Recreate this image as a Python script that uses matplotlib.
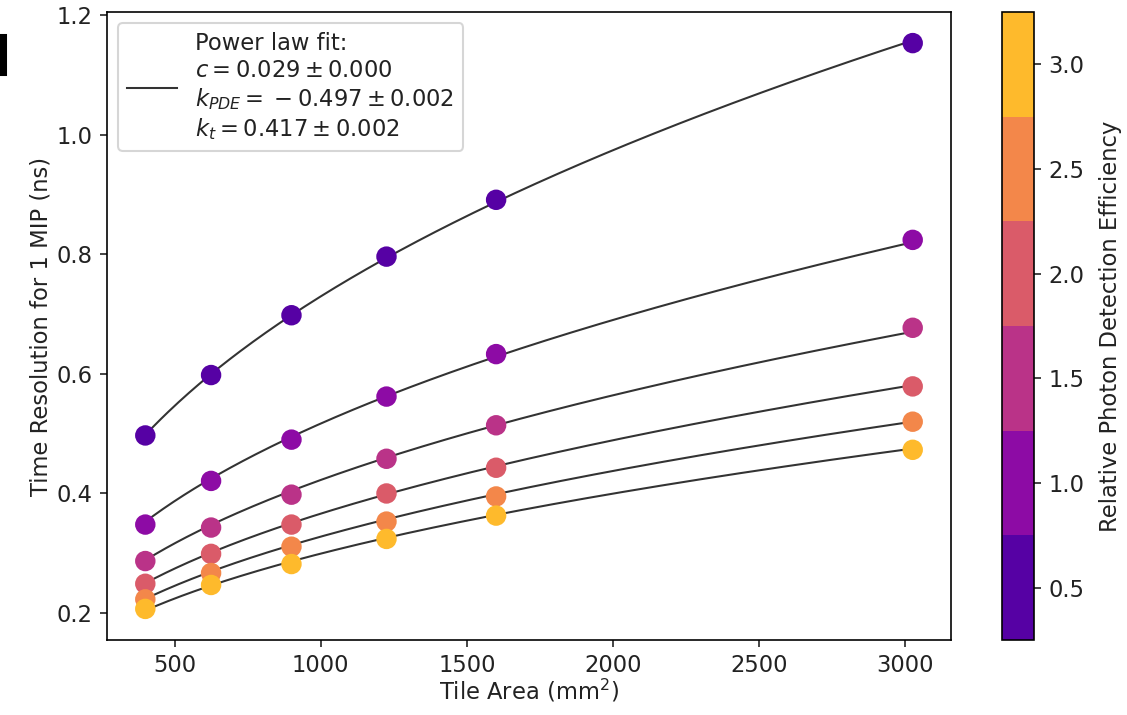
import numpy as np
import matplotlib
matplotlib.use("Agg")
import matplotlib.pyplot as plt
from matplotlib.colors import ListedColormap, BoundaryNorm
from matplotlib.patches import Rectangle
from matplotlib.ticker import NullLocator

# tile areas (mm^2) and relative PDE levels
areas = [400, 625, 900, 1225, 1600, 3025]
pde_levels = [0.5, 1.0, 1.5, 2.0, 2.5, 3.0]

# measured time resolution (ns), one row per PDE level
t_pde_05 = [0.497, 0.598, 0.698, 0.796, 0.891, 1.153]
t_pde_10 = [0.348, 0.421, 0.490, 0.562, 0.633, 0.824]
t_pde_15 = [0.287, 0.343, 0.398, 0.458, 0.514, 0.677]
t_pde_20 = [0.249, 0.299, 0.348, 0.400, 0.443, 0.579]
t_pde_25 = [0.223, 0.267, 0.311, 0.353, 0.395, 0.520]
t_pde_30 = [0.207, 0.247, 0.282, 0.324, 0.363, 0.473]
series = [t_pde_05, t_pde_10, t_pde_15, t_pde_20, t_pde_25, t_pde_30]

# power law fit parameters
c_fit, c_err = 0.029, 0.000
k_pde, k_pde_err = -0.497, 0.002
k_t, k_t_err = 0.417, 0.002

cb_ticks = [0.5, 1.0, 1.5, 2.0, 2.5, 3.0]
cb_bounds = [0.25, 0.75, 1.25, 1.75, 2.25, 2.75, 3.25]


def power_law(pde, area):
    return c_fit * pde ** k_pde * area ** k_t


plt.rcParams["font.size"] = 11
plt.rcParams["text.color"] = "#222222"
plt.rcParams["axes.labelcolor"] = "#222222"
plt.rcParams["xtick.color"] = "#222222"
plt.rcParams["ytick.color"] = "#222222"

fig = plt.figure(figsize=(1127 / 148, 715 / 148), dpi=148)
ax = fig.add_axes([107 / 1127, 1 - 640 / 715, 844 / 1127, 628 / 715])
cax = fig.add_axes([1002 / 1127, 1 - 640 / 715, 32 / 1127, 628 / 715])

cmap = ListedColormap(plt.get_cmap("plasma")(np.linspace(0.15, 0.85, 6)))
norm = BoundaryNorm(cb_bounds, cmap.N)

fit_label = (
    "Power law fit:\n"
    f"$c = {c_fit:.3f} \\pm {c_err:.3f}$\n"
    f"$k_{{PDE}} = \\:-\\:{abs(k_pde):.3f} \\pm {k_pde_err:.3f}$\n"
    f"$k_t = {k_t:.3f} \\pm {k_t_err:.3f}$"
)

x_fit = np.linspace(areas[0], areas[-1], 300)
for i, (pde, vals) in enumerate(zip(pde_levels, series)):
    ax.plot(x_fit, power_law(pde, x_fit), color="#333333", lw=1.0,
            label=fit_label if i == 0 else None, zorder=1)
    sc = ax.scatter(areas, vals, c=[pde] * len(areas), cmap=cmap, norm=norm,
                    s=80, zorder=2)

ax.set_xlim(269, 3156)
ax.set_ylim(0.155, 1.205)
ax.set_xticks([500, 1000, 1500, 2000, 2500, 3000])
ax.set_yticks([0.2, 0.4, 0.6, 0.8, 1.0, 1.2])
ax.set_xlabel("Tile Area (mm$^2$)", labelpad=0)
ax.set_ylabel("Time Resolution for 1 MIP (ns)", labelpad=2)
ax.legend(loc="upper left", handlelength=2.2)

cb = fig.colorbar(sc, cax=cax, ticks=cb_ticks)
cb.ax.yaxis.set_minor_locator(NullLocator())
cb.set_label("Relative Photon Detection Efficiency", labelpad=7)

# cropped panel mark at the left edge
fig.patches.append(Rectangle((0, 1 - 75 / 715), 6 / 1127, 40 / 715,
                             transform=fig.transFigure, color="black"))

fig.savefig("out.png", dpi=148)
